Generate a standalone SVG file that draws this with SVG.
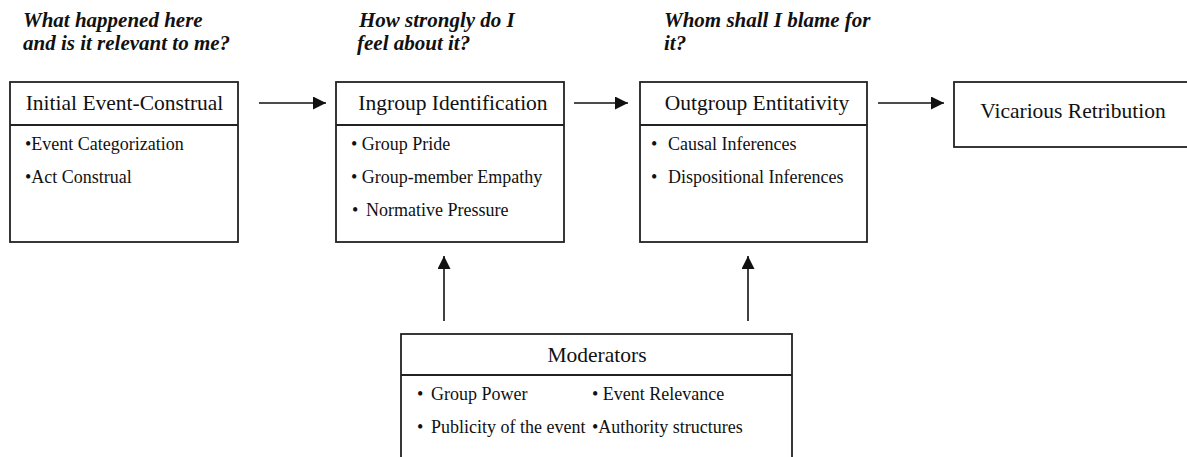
<svg xmlns="http://www.w3.org/2000/svg" width="1187" height="457" viewBox="0 0 1187 457">
<style>
.box{fill:#fff;stroke:#222;stroke-width:1.8}
.div{stroke:#222;stroke-width:1.8}
.title{font-family:"Liberation Serif","Times New Roman",serif;font-size:21.5px;fill:#111}
.item{font-family:"Liberation Serif","Times New Roman",serif;font-size:18px;fill:#111}
.q{font-family:"Liberation Serif","Times New Roman",serif;font-size:21px;font-weight:bold;font-style:italic;fill:#111}
.conn{stroke:#111;stroke-width:1.6;fill:none}
</style>
<defs>
<marker id="ah" viewBox="0 0 10 10" refX="10" refY="5" markerUnits="userSpaceOnUse" markerWidth="15" markerHeight="13" orient="auto">
<path d="M0,0 L10,5 L0,10 z" fill="#111"/>
</marker>
</defs>
<rect width="1187" height="457" fill="#fff"/>

<g id="questions">
<text class="q" x="23" y="27">What happened here</text>
<text class="q" x="23" y="50">and is it relevant to me?</text>
<text class="q" x="359" y="27">How strongly do I</text>
<text class="q" x="357" y="50">feel about it?</text>
<text class="q" x="664" y="27">Whom shall I blame for</text>
<text class="q" x="664" y="50">it?</text>
</g>

<g id="initial-event-construal">
<rect class="box" x="10" y="82" width="228" height="160"/>
<line class="div" x1="10" y1="125" x2="238" y2="125"/>
<text class="title" x="124.5" y="110" text-anchor="middle">Initial Event-Construal</text>
<text class="item" x="25" y="150">•Event Categorization</text>
<text class="item" x="25" y="183">•Act Construal</text>
</g>

<g id="ingroup-identification">
<rect class="box" x="336" y="82" width="228" height="160"/>
<line class="div" x1="336" y1="125" x2="564" y2="125"/>
<text class="title" x="453" y="110" text-anchor="middle">Ingroup Identification</text>
<text class="item" x="351" y="150">• Group Pride</text>
<text class="item" x="351" y="183">• Group-member Empathy</text>
<text class="item" y="216"><tspan x="352">•</tspan><tspan x="366">Normative Pressure</tspan></text>
</g>

<g id="outgroup-entitativity">
<rect class="box" x="640" y="82" width="227" height="160"/>
<line class="div" x1="640" y1="125" x2="867" y2="125"/>
<text class="title" x="757" y="110" text-anchor="middle">Outgroup Entitativity</text>
<text class="item" y="150"><tspan x="651">•</tspan><tspan x="668">Causal Inferences</tspan></text>
<text class="item" y="183"><tspan x="651">•</tspan><tspan x="668">Dispositional Inferences</tspan></text>
</g>

<g id="vicarious-retribution">
<rect class="box" x="954" y="82" width="250" height="65"/>
<text class="title" x="1073" y="118" text-anchor="middle">Vicarious Retribution</text>
</g>

<g id="moderators">
<rect class="box" x="401" y="334" width="391" height="160"/>
<line class="div" x1="401" y1="375" x2="792" y2="375"/>
<text class="title" x="597" y="362" text-anchor="middle">Moderators</text>
<text class="item" y="400"><tspan x="417">•</tspan><tspan x="431">Group Power</tspan></text>
<text class="item" x="592" y="400">• Event Relevance</text>
<text class="item" y="433"><tspan x="417">•</tspan><tspan x="431">Publicity of the event</tspan></text>
<text class="item" x="592" y="433">•Authority structures</text>
</g>

<g id="connectors">
<line class="conn" x1="259" y1="103" x2="326" y2="103" marker-end="url(#ah)"/>
<line class="conn" x1="574" y1="103" x2="628" y2="103" marker-end="url(#ah)"/>
<line class="conn" x1="878" y1="103" x2="944" y2="103" marker-end="url(#ah)"/>
<line class="conn" x1="444" y1="321" x2="444" y2="256" marker-end="url(#ah)"/>
<line class="conn" x1="748" y1="321" x2="748" y2="256" marker-end="url(#ah)"/>
</g>
</svg>
